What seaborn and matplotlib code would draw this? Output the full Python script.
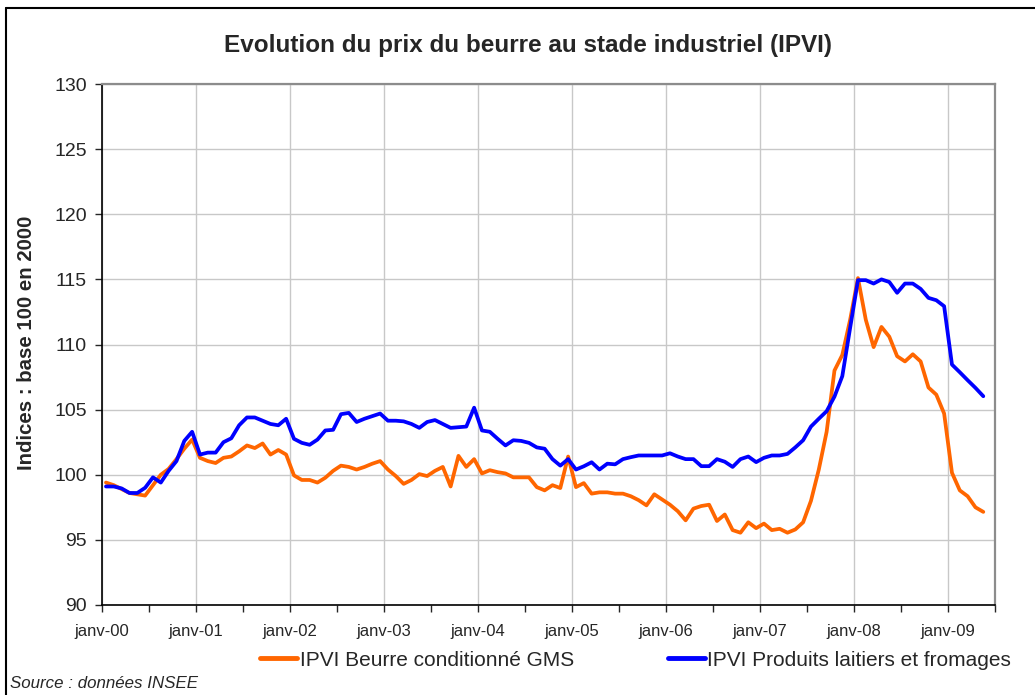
import numpy as np
import pandas as pd
import seaborn as sns
import matplotlib.pyplot as plt
from matplotlib.lines import Line2D
from matplotlib.ticker import MultipleLocator, FixedLocator

# monthly index values, janv-2000 .. mai-2009
beurre_gms = [
    99.4, 99.2, 98.9, 98.6, 98.5, 98.4, 99.2, 100.0, 100.45, 101.2, 102.0, 102.7,
    101.3, 101.05, 100.9, 101.3, 101.4, 101.8, 102.25, 102.05, 102.4, 101.55, 101.9, 101.55,
    99.95, 99.6, 99.6, 99.4, 99.77, 100.3, 100.7, 100.6, 100.4, 100.6, 100.85, 101.05,
    100.4, 99.9, 99.3, 99.6, 100.05, 99.9, 100.3, 100.6, 99.1, 101.45, 100.6, 101.2,
    100.1, 100.35, 100.2, 100.1, 99.8, 99.8, 99.8, 99.05, 98.8, 99.2, 98.98, 101.4,
    99.05, 99.36, 98.55, 98.65, 98.65, 98.55, 98.55, 98.35, 98.05, 97.65, 98.5, 98.1,
    97.7, 97.2, 96.5, 97.4, 97.6, 97.7, 96.45, 96.95, 95.75, 95.55, 96.35, 95.9,
    96.25, 95.75, 95.85, 95.55, 95.8, 96.35, 98.0, 100.4, 103.3, 108.0, 109.2, 111.9,
    115.1, 111.9, 109.8, 111.35, 110.6, 109.1, 108.7, 109.25, 108.7, 106.7, 106.15, 104.7,
    100.15, 98.8, 98.35, 97.5, 97.15,
]
laitiers_fromages = [
    99.1, 99.1, 98.95, 98.6, 98.6, 99.0, 99.8, 99.4, 100.3, 101.05, 102.6, 103.3,
    101.55, 101.7, 101.7, 102.5, 102.8, 103.8, 104.4, 104.4, 104.15, 103.9, 103.8, 104.3,
    102.76, 102.45, 102.3, 102.7, 103.4, 103.45, 104.65, 104.75, 104.05, 104.3, 104.5, 104.7,
    104.15, 104.15, 104.1, 103.9, 103.6, 104.05, 104.2, 103.9, 103.6, 103.65, 103.7, 105.15,
    103.4, 103.3, 102.76, 102.25, 102.65, 102.6, 102.45, 102.1, 102.0, 101.2, 100.7, 101.2,
    100.4, 100.65, 100.96, 100.4, 100.85, 100.8, 101.2, 101.35, 101.48, 101.48, 101.48, 101.48,
    101.65, 101.4, 101.2, 101.2, 100.66, 100.66, 101.2, 101.0, 100.6, 101.2, 101.4, 100.97,
    101.3, 101.48, 101.48, 101.6, 102.1, 102.65, 103.7, 104.3, 104.88, 106.0, 107.57, 111.28,
    114.94, 114.94, 114.68, 115.0, 114.8, 113.97, 114.68, 114.68, 114.27, 113.58, 113.4, 112.94,
    108.46, 107.87, 107.26, 106.67, 106.03,
]
year_labels = ['janv-00', 'janv-01', 'janv-02', 'janv-03', 'janv-04',
               'janv-05', 'janv-06', 'janv-07', 'janv-08', 'janv-09']
series_names = ['IPVI Beurre conditionné GMS', 'IPVI Produits laitiers et fromages']

months = np.arange(len(beurre_gms)) + 0.5  # mid-month position
df = pd.concat([
    pd.DataFrame({'mois': months, 'indice': beurre_gms, 'serie': series_names[0]}),
    pd.DataFrame({'mois': months, 'indice': laitiers_fromages, 'serie': series_names[1]}),
])

sns.set_style('white')
plt.rcParams['font.family'] = ['Liberation Sans', 'DejaVu Sans']

fig = plt.figure(figsize=(10.35, 6.95), dpi=100)
ax = fig.add_axes([0.0986, 0.1295, 0.8628, 0.7496])

sns.lineplot(data=df, x='mois', y='indice', hue='serie',
             palette=['#FF6600', '#0000FF'], linewidth=2.7, ax=ax)

ax.set_xlim(0, 114)
ax.set_ylim(90, 130)
ax.xaxis.set_minor_locator(FixedLocator(np.arange(6, 115, 12)))
ax.set_xticks(np.arange(0, 109, 12))
ax.set_xticklabels(year_labels, fontsize=12)
ax.yaxis.set_major_locator(MultipleLocator(5))
ax.tick_params(axis='y', labelsize=14, direction='out', length=5, width=1, left=True, pad=6)
ax.tick_params(axis='x', which='both', direction='out', length=5, width=1, bottom=True, pad=9)
ax.grid(True, which='major', color='#c8c8c8', linewidth=1)
ax.set_xlabel('')
ax.set_ylabel('')

for side in ['left', 'bottom']:
    ax.spines[side].set_color('black')
    ax.spines[side].set_linewidth(1.2)
for side in ['top', 'right']:
    ax.spines[side].set_color('#8c8c8c')
    ax.spines[side].set_linewidth(1.6)

ax.legend_.remove()
handles = [Line2D([], [], color='#FF6600', linewidth=3.5),
           Line2D([], [], color='#0000FF', linewidth=3.5)]
fig.legend(handles, series_names, loc='center', bbox_to_anchor=(0.614, 0.05),
           ncol=2, frameon=False, fontsize=15, handlelength=1.8,
           handletextpad=0.1, columnspacing=4.5)

fig.text(0.51, 0.935, 'Evolution du prix du beurre au stade industriel (IPVI)',
         ha='center', va='center', fontsize=17.5, fontweight='bold')
fig.text(0.026, 0.507, 'Indices : base 100 en 2000', rotation=90,
         ha='center', va='center', fontsize=14.7, fontweight='bold')
fig.text(0.01, 0.017, 'Source : données INSEE', ha='left', va='center',
         fontsize=12.2, style='italic')

# frame around the chart
fig.add_artist(Line2D([6 / 1035, 6 / 1035], [0, 1 - 8 / 695], color='black',
                      linewidth=1.5, transform=fig.transFigure))
fig.add_artist(Line2D([6 / 1035, 1], [1 - 8 / 695, 1 - 8 / 695], color='black',
                      linewidth=1.5, transform=fig.transFigure))

fig.savefig('out.png', dpi=100)
